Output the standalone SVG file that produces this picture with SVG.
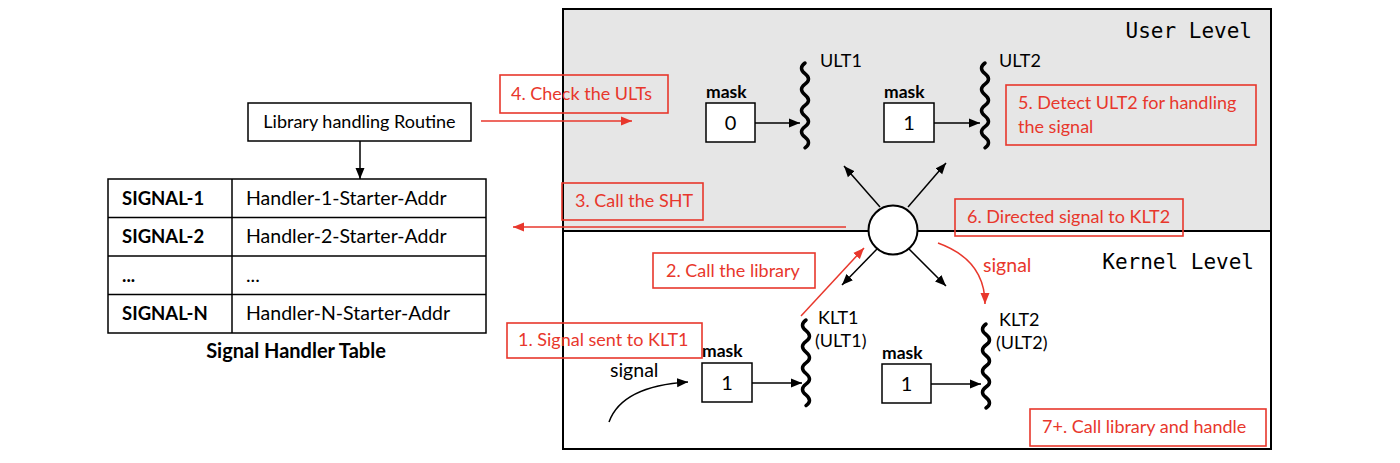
<svg xmlns="http://www.w3.org/2000/svg" width="1400" height="463" viewBox="0 0 1400 463">
<defs>
<style>
text{font-family:Lato,"Open Sans","Liberation Sans",sans-serif;font-size:18px;fill:#000}
.b{font-weight:bold;font-size:18.5px}
.t{font-size:19.5px}
.ttl{font-weight:bold;font-size:20px}
.mk{font-weight:bold;font-size:17.5px}
.dg{font-size:20px}
.sg{font-size:19.5px}
.red{fill:#e8372c}
.mono{font-family:"DejaVu Sans Mono","Liberation Mono",monospace;font-size:21px}
.box{fill:#fff;stroke:#000;stroke-width:1.5}
.rbox{fill:none;stroke:#e8372c;stroke-width:1.6}
.ln{fill:none;stroke:#000;stroke-width:1.5}
.rln{fill:none;stroke:#e8372c;stroke-width:1.5}
.wave{fill:none;stroke:#000;stroke-width:3.5;stroke-linecap:round}
</style>
<marker id="ab" markerUnits="userSpaceOnUse" markerWidth="12" markerHeight="10" refX="11" refY="5" orient="auto">
<path d="M0,0.5 L11,5 L0,9.5 z" fill="#000"/>
</marker>
<marker id="ar" markerUnits="userSpaceOnUse" markerWidth="12" markerHeight="10" refX="11" refY="5" orient="auto">
<path d="M0,0.5 L11,5 L0,9.5 z" fill="#e8372c"/>
</marker>
</defs>
<rect width="1400" height="463" fill="#fff"/>

<g id="levels">
<rect x="563" y="9" width="708" height="222" fill="#e6e6e6"/>
<rect x="563" y="9" width="708" height="440" fill="none" stroke="#000" stroke-width="2"/>
<line x1="563" y1="231" x2="1271" y2="231" stroke="#000" stroke-width="2"/>
<text class="mono" x="1252" y="38" text-anchor="end">User Level</text>
<text class="mono" x="1254" y="269" text-anchor="end">Kernel Level</text>
</g>

<g id="library-routine">
<rect class="box" x="248" y="103" width="223" height="38"/>
<text x="359.5" y="128" text-anchor="middle">Library handling Routine</text>
</g>

<g id="signal-handler-table">
<rect class="box" x="108" y="179" width="378" height="154"/>
<line class="ln" x1="108" y1="217.5" x2="486" y2="217.5"/>
<line class="ln" x1="108" y1="256" x2="486" y2="256"/>
<line class="ln" x1="108" y1="294.5" x2="486" y2="294.5"/>
<line class="ln" x1="232" y1="179" x2="232" y2="333"/>
<text class="b" x="122" y="205">SIGNAL-1</text>
<text class="t" x="246" y="205">Handler-1-Starter-Addr</text>
<text class="b" x="122" y="243">SIGNAL-2</text>
<text class="t" x="246" y="243">Handler-2-Starter-Addr</text>
<text class="b" x="122" y="282">...</text>
<text class="t" x="246" y="282">...</text>
<text class="b" x="122" y="320">SIGNAL-N</text>
<text class="t" x="246" y="320">Handler-N-Starter-Addr</text>
<text class="ttl" x="296" y="358" text-anchor="middle">Signal Handler Table</text>
</g>

<g id="ult1">
<text class="mk" x="706" y="98">mask</text>
<rect class="box" x="706" y="103" width="49" height="39"/>
<text class="dg" x="730.5" y="130" text-anchor="middle">0</text>
<path class="wave" d="M805,63 q-7,5 0,10.6 t0,10.6 t0,10.6 t0,10.6 t0,10.6 t0,10.6 t0,10.6 t0,10.6"/>
<text x="820" y="67">ULT1</text>
</g>

<g id="ult2">
<text class="mk" x="884" y="98">mask</text>
<rect class="box" x="884" y="103" width="50" height="39"/>
<text class="dg" x="909" y="130" text-anchor="middle">1</text>
<path class="wave" d="M985,63 q-7,5 0,10.6 t0,10.6 t0,10.6 t0,10.6 t0,10.6 t0,10.6 t0,10.6 t0,10.6"/>
<text x="999" y="67">ULT2</text>
</g>

<g id="klt1">
<text class="mk" x="702" y="357">mask</text>
<rect class="box" x="702" y="363" width="50" height="39"/>
<text class="dg" x="727" y="390" text-anchor="middle">1</text>
<path class="wave" d="M806,320 q-7,5 0,10.7 t0,10.7 t0,10.7 t0,10.7 t0,10.7 t0,10.7 t0,10.7 t0,10.7"/>
<text x="818" y="324">KLT1</text>
<text x="815" y="347">(ULT1)</text>
</g>

<g id="klt2">
<text class="mk" x="882" y="359">mask</text>
<rect class="box" x="882" y="364" width="49" height="39"/>
<text class="dg" x="906.5" y="391" text-anchor="middle">1</text>
<path class="wave" d="M986,324 q-7,5 0,10.5 t0,10.5 t0,10.5 t0,10.5 t0,10.5 t0,10.5 t0,10.5 t0,10.5"/>
<text x="999" y="326">KLT2</text>
<text x="996" y="349">(ULT2)</text>
</g>

<g id="library-node">
<circle cx="893" cy="230" r="24.5" fill="#fff" stroke="#000" stroke-width="2"/>
</g>

<g id="connectors">
<line class="ln" x1="360" y1="141" x2="360" y2="179" marker-end="url(#ab)"/>
<line class="ln" x1="755" y1="123" x2="800" y2="123" marker-end="url(#ab)"/>
<line class="ln" x1="934" y1="123" x2="980" y2="123" marker-end="url(#ab)"/>
<line class="ln" x1="752" y1="383" x2="802" y2="383" marker-end="url(#ab)"/>
<line class="ln" x1="931" y1="384" x2="981" y2="384" marker-end="url(#ab)"/>
<line class="ln" x1="880" y1="207" x2="844" y2="166" marker-end="url(#ab)"/>
<line class="ln" x1="908" y1="207" x2="946" y2="163" marker-end="url(#ab)"/>
<line class="ln" x1="877" y1="249" x2="842" y2="285" marker-end="url(#ab)"/>
<line class="ln" x1="909" y1="249" x2="946" y2="286" marker-end="url(#ab)"/>
<path class="ln" d="M609,422 Q622,386 688,382" marker-end="url(#ab)"/>
<line class="rln" x1="481" y1="121" x2="632" y2="121" marker-end="url(#ar)"/>
<line class="rln" x1="846" y1="227" x2="513" y2="227" marker-end="url(#ar)"/>
<line class="rln" x1="801" y1="316" x2="864" y2="248" marker-end="url(#ar)"/>
<path class="rln" d="M938,243 Q985,260 985,304" marker-end="url(#ar)"/>
</g>

<g id="labels">
<text class="sg" x="610" y="377">signal</text>
<text class="red sg" x="983" y="272">signal</text>
<rect class="rbox" x="500" y="75" width="168" height="38"/>
<text class="red" x="511" y="100">4. Check the ULTs</text>
<rect class="rbox" x="562" y="183" width="141" height="37"/>
<text class="red" x="575" y="207">3. Call the SHT</text>
<rect class="rbox" x="1006" y="85" width="250" height="60"/>
<text class="red" x="1018" y="109">5. Detect ULT2 for handling</text>
<text class="red" x="1018" y="133">the signal</text>
<rect class="rbox" x="955" y="199" width="228" height="37"/>
<text class="red" x="967" y="223">6. Directed signal to KLT2</text>
<rect class="rbox" x="653" y="253" width="162" height="35"/>
<text class="red" x="666" y="277">2. Call the library</text>
<rect class="rbox" x="507" y="323" width="195" height="35"/>
<text class="red" x="518" y="346">1. Signal sent to KLT1</text>
<rect class="rbox" x="1030" y="409" width="236" height="37"/>
<text class="red" x="1042" y="433">7+. Call library and handle</text>
</g>
</svg>
